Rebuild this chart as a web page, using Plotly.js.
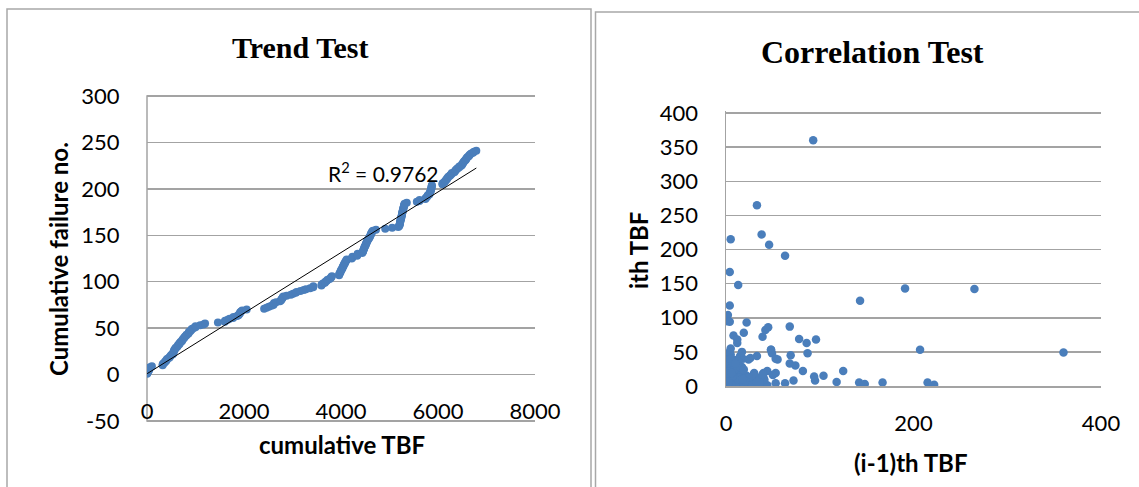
<!DOCTYPE html>
<html>
<head>
<meta charset="utf-8">
<script src="https://cdn.plot.ly/plotly-3.0.1.min.js"></script>
<style>
html,body{margin:0;padding:0;background:#fff;}
#chart{width:1139px;height:487px;}
</style>
</head>
<body>
<div id="chart"></div>
<script>
// Times between failures (TBF), in failure order
const tbf = [
  3, 10, 6, 14, 9, 7, 4, 9, 38,
  222, 2,
  12, 30, 8, 25, 3, 18, 40, 6, 22, 10, 35, 2, 11, 9, 5,
  7, 22, 4, 31, 12, 9, 26, 3, 17, 28, 6, 14, 20, 10, 16,
  25, 4, 38, 11, 2, 30, 19, 8, 33,
  44, 1, 96, 68, 33,
  265, 142, 5,
  55, 39, 72,
  8, 74, 30, 12, 19, 4, 18,
  22, 93, 360, 49,
  48, 53, 40,
  12, 3, 42, 82, 22, 6, 17, 9, 12,
  68, 87, 48, 53, 19,
  78, 69, 45, 86, 63, 4,
  167, 5,
  26, 41, 9, 30, 15, 44, 22, 11,
  13, 148, 3, 8, 15, 3, 11, 6, 20, 2, 9, 14, 5, 7, 18, 4, 10, 19, 2,
  104, 15, 1, 95, 8, 4, 94, 14, 3, 5,
  12, 5, 9, 3, 16, 7, 2, 14, 6, 11, 4, 20, 8, 13, 8,
  12, 5, 9, 8, 14, 12,
  63, 191, 143, 125, 22,
  3, 8, 2, 5, 1, 6, 4, 9, 2, 3, 7, 5, 1, 4, 6, 2, 8, 3, 5, 4, 7, 2, 6, 5, 46,
  207, 53,
  4, 118, 6, 22, 15, 9, 31, 3, 12, 7, 5, 10, 2, 6, 1, 3,
  5, 215, 5, 37, 13, 10, 25,
  2, 20, 11, 34, 8, 27, 4, 50, 16, 9, 24,
  13, 36, 5, 40, 19, 3, 21,
  7, 15, 28, 2, 18, 10, 33, 6, 19,
  24, 39, 17, 50
];

const trendTitle = 'Trend Test';
const corrTitle = 'Correlation Test';
const trendXTitle = 'cumulative TBF';
const trendYTitle = 'Cumulative failure no.';
const corrXTitle = '(i-1)th TBF';
const corrYTitle = 'ith TBF';
const r2Text = 'R<sup>2</sup> = 0.9762';

const trendXTicks = [0, 2000, 4000, 6000, 8000];
const trendYTicks = [-50, 0, 50, 100, 150, 200, 250, 300];
const corrXTicks = [0, 200, 400];
const corrYTicks = [0, 50, 100, 150, 200, 250, 300, 350, 400];

// Derived series
const cumTBF = [];
const failureNo = [];
let run = 0;
tbf.forEach((v, i) => { run += v; cumTBF.push(run); failureNo.push(i + 1); });
const prevTBF = tbf.slice(0, -1);
const curTBF = tbf.slice(1);

// Least-squares trendline
const n = cumTBF.length;
const mx = cumTBF.reduce((a, b) => a + b, 0) / n;
const my = failureNo.reduce((a, b) => a + b, 0) / n;
let sxy = 0, sxx = 0;
for (let i = 0; i < n; i++) { sxy += (cumTBF[i] - mx) * (failureNo[i] - my); sxx += (cumTBF[i] - mx) ** 2; }
const slope = sxy / sxx;
const icpt = my - slope * mx;
const xMin = Math.min(...cumTBF), xMax = Math.max(...cumTBF);
const trendX = [xMin, xMax];
const trendY = trendX.map(x => icpt + slope * x);

const W = 1139, H = 487;
const px = x => x / W;
const py = y => 1 - y / H;

const blue = '#4a7ebb';
const grid = '#a3a3a3';
const tickFont = {family: 'Lato, "Open Sans", sans-serif', size: 22, color: '#000'};
const boldFont = {family: 'Lato, "Open Sans", sans-serif', size: 24, color: '#000'};
const serif = {family: '"Liberation Serif", "DejaVu Serif", serif', color: '#000'};

// Left panel: -50..300 spans 96..421 px; pad the range ~2 px so edge gridlines are drawn
const lScale = (421 - 96) / 350;            // px per unit
const lPad = 2 / lScale;                    // units
const lyTop = 96 - 2, lyBot = 421 + 2;
const lyZero = 421 - 50 * lScale;           // px of y = 0
// Right panel: 0..400 spans 113..386 px; pad top ~2 px
const rScale = (386 - 113) / 400;
const rPad = 2 / rScale;

const data = [
  {x: cumTBF, y: failureNo, type: 'scatter', mode: 'markers', xaxis: 'x', yaxis: 'y',
   marker: {color: blue, size: 8}, hoverinfo: 'skip'},
  {x: trendX, y: trendY, type: 'scatter', mode: 'lines', xaxis: 'x', yaxis: 'y',
   line: {color: '#000', width: 1}, hoverinfo: 'skip'},
  {x: prevTBF, y: curTBF, type: 'scatter', mode: 'markers', xaxis: 'x2', yaxis: 'y2',
   marker: {color: blue, size: 8.5}, hoverinfo: 'skip'}
];

const layout = {
  width: W, height: H,
  margin: {l: 0, r: 0, t: 0, b: 0},
  paper_bgcolor: '#fff', plot_bgcolor: '#fff',
  showlegend: false,
  xaxis: {
    domain: [px(147), px(535)], range: [0, 8000], anchor: 'free', position: py(lyZero),
    tickvals: trendXTicks, ticktext: trendXTicks.map(String),
    showgrid: false, zeroline: false, showline: false,
    ticks: 'outside', ticklen: 17, tickcolor: 'rgba(0,0,0,0)', tickfont: tickFont
  },
  yaxis: {
    domain: [py(lyBot), py(lyTop)], range: [-50 - lPad, 300 + lPad], anchor: 'x',
    tickvals: trendYTicks, ticktext: trendYTicks.map(String),
    showgrid: true, gridcolor: grid, gridwidth: 1.5, zeroline: false,
    showline: false,
    ticks: 'outside', ticklen: 22, tickcolor: 'rgba(0,0,0,0)', tickfont: tickFont
  },
  xaxis2: {
    domain: [px(726), px(1101)], range: [0, 400], anchor: 'y2',
    tickvals: corrXTicks, ticktext: corrXTicks.map(String),
    showgrid: false, zeroline: false,
    showline: true, linecolor: grid, linewidth: 1.5,
    ticks: 'outside', ticklen: 17, tickcolor: 'rgba(0,0,0,0)', tickfont: tickFont
  },
  yaxis2: {
    domain: [py(386), py(113 - 2)], range: [0, 400 + rPad], anchor: 'x2',
    tickvals: corrYTicks, ticktext: corrYTicks.map(String),
    showgrid: true, gridcolor: grid, gridwidth: 1.5, zeroline: false,
    showline: true, linecolor: grid, linewidth: 1.5,
    ticks: 'outside', ticklen: 22, tickcolor: 'rgba(0,0,0,0)', tickfont: tickFont
  },
  shapes: [
    {type: 'rect', xref: 'paper', yref: 'paper', x0: px(7), x1: px(591), y0: py(520), y1: py(9),
     line: {color: '#a8a8a8', width: 1.5}, fillcolor: 'rgba(0,0,0,0)', layer: 'below'},
    {type: 'rect', xref: 'paper', yref: 'paper', x0: px(595.5), x1: px(1180), y0: py(520), y1: py(12),
     line: {color: '#a8a8a8', width: 1.5}, fillcolor: 'rgba(0,0,0,0)', layer: 'below'},
    // left panel vertical axis line from 300 down to -50
    {type: 'line', xref: 'paper', yref: 'paper', x0: px(147), x1: px(147), y0: py(421.75), y1: py(95.25),
     line: {color: grid, width: 1.5}, layer: 'below'}
  ],
  annotations: [
    {text: '<b>' + trendTitle + '</b>', xref: 'paper', yref: 'paper', x: px(300), y: py(47),
     xanchor: 'center', yanchor: 'middle', showarrow: false, font: Object.assign({size: 30}, serif)},
    {text: '<b>' + corrTitle + '</b>', xref: 'paper', yref: 'paper', x: px(872), y: py(52),
     xanchor: 'center', yanchor: 'middle', showarrow: false, font: Object.assign({size: 32}, serif)},
    {text: '<b>' + trendYTitle + '</b>', xref: 'paper', yref: 'paper', x: px(58), y: py(259),
     xanchor: 'center', yanchor: 'middle', textangle: -90, showarrow: false, font: boldFont},
    {text: '<b>' + trendXTitle + '</b>', xref: 'paper', yref: 'paper', x: px(342), y: py(444),
     xanchor: 'center', yanchor: 'middle', showarrow: false, font: boldFont},
    {text: '<b>' + corrYTitle + '</b>', xref: 'paper', yref: 'paper', x: px(638), y: py(251),
     xanchor: 'center', yanchor: 'middle', textangle: -90, showarrow: false, font: boldFont},
    {text: '<b>' + corrXTitle + '</b>', xref: 'paper', yref: 'paper', x: px(911), y: py(462),
     xanchor: 'center', yanchor: 'middle', showarrow: false, font: boldFont},
    {text: r2Text, xref: 'x', yref: 'y', x: 3700, y: 218, xanchor: 'left', yanchor: 'middle',
     showarrow: false, font: {family: 'Lato, "Open Sans", sans-serif', size: 21, color: '#000'}}
  ]
};

Plotly.newPlot('chart', data, layout, {staticPlot: true, displayModeBar: false});
</script>
</body>
</html>
